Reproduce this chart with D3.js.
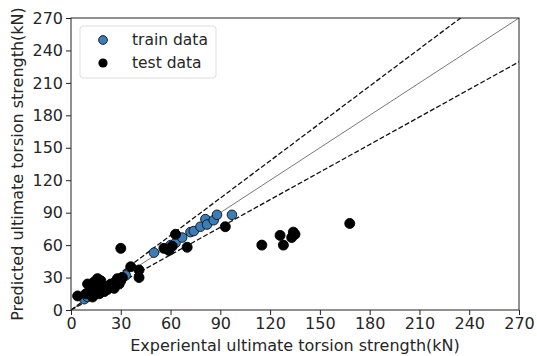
<!DOCTYPE html>
<html>
<head>
<meta charset="utf-8">
<script src="https://cdn.jsdelivr.net/npm/d3@7"></script>
<style>
  body { margin: 0; background: #fff; }
  text { font-family: "DejaVu Sans", sans-serif; fill: #262626; }
</style>
</head>
<body>
<svg width="537" height="356"></svg>
<script>
// values (kN)
const trainX = [8, 10, 14, 18, 22, 26, 33, 50, 60, 63, 67, 72, 74, 78, 81, 82, 86, 88, 97];
const trainY = [10, 12, 14, 18, 22, 25, 32, 53, 60, 62, 67, 72, 73, 77, 84, 79, 83, 88, 88];
const testX = [4, 9, 10, 12, 13, 14, 15, 16, 17, 18, 19, 20, 21, 22, 24, 25, 26, 27, 28, 29, 30, 31,
               30, 36, 41, 41, 56, 59, 61, 63, 70, 93, 115, 126, 128, 133, 134, 135, 168];
const testY = [13, 15, 24, 18, 12, 26, 20, 29, 15, 27, 22, 17, 21, 19, 24, 22, 20, 26, 29, 24, 27, 30,
               57, 40, 37, 30, 57, 55, 59, 70, 58, 77, 60, 69, 60, 67, 72, 70, 80];
const ticks = [0, 30, 60, 90, 120, 150, 180, 210, 240, 270];
const bandLow = 0.85, bandHigh = 1.15;

const svg = d3.select("svg"),
    margin = {top: 18, right: 18, bottom: 46, left: 71};
const width = +svg.attr("width") - margin.left - margin.right,
    height = +svg.attr("height") - margin.top - margin.bottom;

const x = d3.scaleLinear().domain([0, 270]).range([0, width]);
const y = d3.scaleLinear().domain([0, 270]).range([height, 0]);

const g = svg.append("g")
  .attr("transform", "translate(" + margin.left + "," + margin.top + ")");

g.append("defs").append("clipPath").attr("id", "clip")
  .append("rect").attr("width", width).attr("height", height);

// reference lines
const lines = g.append("g").attr("clip-path", "url(#clip)");
lines.append("line")
  .attr("x1", x(0)).attr("y1", y(0)).attr("x2", x(270)).attr("y2", y(270))
  .attr("stroke", "#555").attr("stroke-width", 0.8);
[bandHigh, bandLow].forEach(k => {
  lines.append("line")
    .attr("x1", x(0)).attr("y1", y(0)).attr("x2", x(270)).attr("y2", y(270 * k))
    .attr("stroke", "#111").attr("stroke-width", 1.3)
    .attr("stroke-dasharray", "5,2.2");
});

// points
const pts = g.append("g");
pts.selectAll(".train").data(trainX.map((d, i) => [d, trainY[i]]))
  .enter().append("circle")
  .attr("class", "train")
  .attr("cx", d => x(d[0])).attr("cy", d => y(d[1]))
  .attr("r", 4.8)
  .attr("fill", "#3a7db8").attr("stroke", "#111").attr("stroke-width", 0.9);

pts.selectAll(".test").data(testX.map((d, i) => [d, testY[i]]))
  .enter().append("circle")
  .attr("class", "test")
  .attr("cx", d => x(d[0])).attr("cy", d => y(d[1]))
  .attr("r", 5)
  .attr("fill", "#000").attr("stroke", "#000").attr("stroke-width", 0.9);

// axes
const axX = g.append("g")
  .attr("transform", "translate(0," + height + ")")
  .call(d3.axisBottom(x).tickValues(ticks).tickSize(5).tickPadding(3));
const axY = g.append("g")
  .call(d3.axisLeft(y).tickValues(ticks).tickSize(5).tickPadding(3));
[axX, axY].forEach(a => {
  a.selectAll("text").style("font-size", "16px").style("font-family", "DejaVu Sans").attr("fill", "#262626");
  a.select(".domain").remove();
  a.selectAll(".tick line").attr("stroke", "#222");
});

g.append("rect")
  .attr("width", width).attr("height", height)
  .attr("fill", "none").attr("stroke", "#222").attr("stroke-width", 1);

// axis labels
svg.append("text")
  .attr("x", margin.left + width / 2).attr("y", 351)
  .attr("text-anchor", "middle").style("font-size", "16px")
  .text("Experiental ultimate torsion strength(kN)");
svg.append("text")
  .attr("transform", "translate(23," + (margin.top + height / 2) + ") rotate(-90)")
  .attr("text-anchor", "middle").style("font-size", "16px")
  .text("Predicted ultimate torsion strength(kN)");

// legend
const lg = svg.append("g").attr("transform", "translate(80,26)");
lg.append("rect").attr("width", 136).attr("height", 52).attr("rx", 3)
  .attr("fill", "#fff").attr("stroke", "#ddd");
lg.append("circle").attr("cx", 23).attr("cy", 14).attr("r", 4.4)
  .attr("fill", "#3a7db8").attr("stroke", "#111").attr("stroke-width", 0.9);
lg.append("circle").attr("cx", 23).attr("cy", 37).attr("r", 4.6).attr("fill", "#000");
lg.append("text").attr("x", 52).attr("y", 19).style("font-size", "15.5px").text("train data");
lg.append("text").attr("x", 52).attr("y", 42).style("font-size", "15.5px").text("test data");
</script>
</body>
</html>
